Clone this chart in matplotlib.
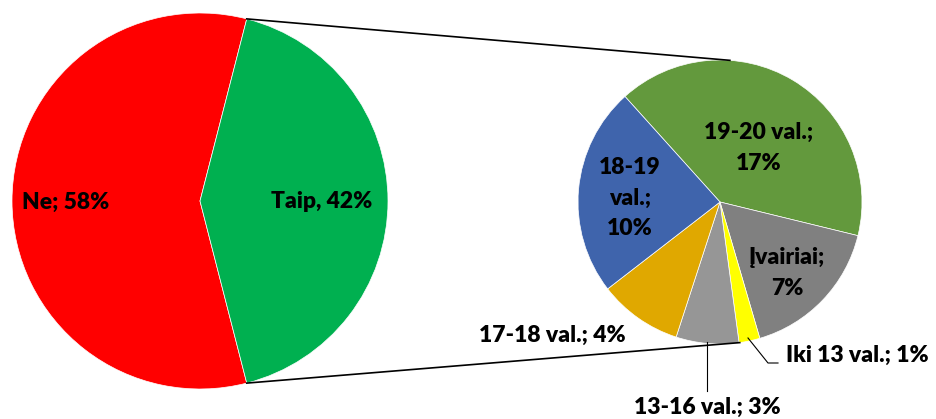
import matplotlib
matplotlib.use("Agg")
import matplotlib.pyplot as plt
import numpy as np

# ---- data ----
main_labels = ["Ne; 58%", "Taip, 42%"]
main_values = [58, 42]
main_colors = ["#FF0000", "#00B050"]

sub_labels = ["19-20 val.;\n17%", "Įvairiai;\n7%", "Iki 13 val.; 1%",
              "13-16 val.; 3%", "17-18 val.; 4%", "18-19\nval.;\n10%"]
sub_values = [17, 7, 1, 3, 4, 10]
sub_colors = ["#63993D", "#808080", "#FFFF00", "#969696", "#E0A800", "#3F64AC"]

W, H = 936, 419
fig = plt.figure(figsize=(W / 100, H / 100), dpi=100)
ax = fig.add_axes([0, 0, 1, 1])

def Y(y):
    return H - y

FONT = dict(family=["Lato", "DejaVu Sans"], fontweight="heavy", fontsize=16.5, color="black")

# main pie
c1 = (200, Y(201)); r1 = 188
taip_frac = main_values[1] / sum(main_values)
start1 = taip_frac * 360 / 2
ax.pie(main_values, colors=main_colors, startangle=start1, counterclock=True,
       center=c1, radius=r1, frame=True,
       wedgeprops=dict(edgecolor="white", linewidth=0.5))

# sub pie
c2 = (720, Y(202)); r2 = 142
ax.pie(sub_values, colors=sub_colors, startangle=132, counterclock=False,
       center=c2, radius=r2, frame=True,
       wedgeprops=dict(edgecolor="white", linewidth=0.5))
ax.set_xlim(0, W)
ax.set_ylim(0, H)
ax.set_aspect("equal")
ax.axis("off")

# connector lines
a = np.deg2rad(start1)
p_top = (c1[0] + r1 * np.cos(a), c1[1] + r1 * np.sin(a))
p_bot = (c1[0] + r1 * np.cos(-a), c1[1] + r1 * np.sin(-a))
q_top = (c2[0] + r2 * np.cos(np.deg2rad(86)), c2[1] + r2 * np.sin(np.deg2rad(86)))
q_bot = (c2[0] + r2 * np.cos(np.deg2rad(-82)), c2[1] + r2 * np.sin(np.deg2rad(-82)))
ax.plot([p_top[0], q_top[0]], [p_top[1], q_top[1]], color="black", lw=1.2)
ax.plot([p_bot[0], q_bot[0]], [p_bot[1], q_bot[1]], color="black", lw=1.2)

# labels
ax.text(66, Y(202), main_labels[0], ha="center", va="center", **FONT)
ax.text(322, Y(202), main_labels[1], ha="center", va="center", **FONT)

sub_pos = [(759, 148), (787, 273), (857, 355), (707, 407), (552, 335), (630, 198)]
for lab, (x, y) in zip(sub_labels, sub_pos):
    ax.text(x, Y(y), lab, ha="center", va="center", linespacing=1.55, **FONT)

# leader lines
ax.plot([707, 707], [Y(342), Y(391)], color="black", lw=0.8)
ax.plot([748, 768, 778], [Y(338), Y(363), Y(363)], color="black", lw=0.8)

fig.savefig("out.png", dpi=100)
